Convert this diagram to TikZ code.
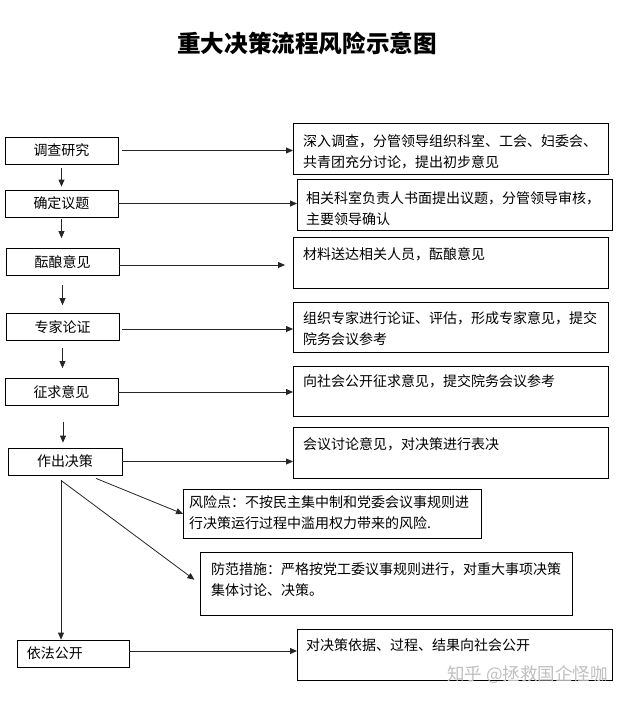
\documentclass[tikz,border=0pt]{standalone}
\usepackage{fontspec}
\newfontfamily\cjk{Noto Sans CJK SC}
\usetikzlibrary{arrows.meta,calc}
\begin{document}
\begin{tikzpicture}[x=1pt,y=-1pt,
  lbox/.style={draw, line width=0.8pt, inner sep=0pt, minimum width=113pt, minimum height=27pt, font=\cjk\fontsize{14}{21}\selectfont},
  rbox/.style={draw, line width=0.8pt, inner sep=0pt, anchor=north west},
  txt/.style={inner sep=0pt, anchor=north west, align=left, font=\cjk\fontsize{14}{21}\selectfont},
  arr/.style={draw=black!85, line width=0.8pt, -{Triangle[length=7pt,width=6pt]}}]
\useasboundingbox (0,0) rectangle (634,702);
\fill[white] (0,0) rectangle (634,702);

% title
\node[font=\cjk\bfseries\fontsize{23.6}{28}\selectfont] (title) at (307,43) {重大决策流程风险示意图};

% left boxes
\node[lbox] (n1) at (61.5,150.5) {调查研究};
\node[lbox] (n2) at (61.5,203.5) {确定议题};
\node[lbox] (n3) at (62.5,262) {酝酿意见};
\node[lbox] (n4) at (62.5,327) {专家论证};
\node[lbox] (n5) at (61.5,392) {征求意见};
\node[lbox, minimum width=114pt] (n6) at (65,461.5) {作出决策};
\node[lbox, minimum width=112pt, align=left, text width=92pt] (n7) at (73,653.5) {依法公开};

% right boxes
\node[rbox, minimum width=315pt, minimum height=51pt] (r1) at (293,123) {};
\node[rbox, minimum width=315pt, minimum height=51pt] (r2) at (297,179) {};
\node[rbox, minimum width=315pt, minimum height=51pt] (r3) at (293,237) {};
\node[rbox, minimum width=315pt, minimum height=50pt] (r4) at (293,302) {};
\node[rbox, minimum width=315pt, minimum height=50pt] (r5) at (293,366) {};
\node[rbox, minimum width=315pt, minimum height=51pt] (r6) at (293,427) {};
\node[rbox, minimum width=298pt, minimum height=49pt] (risk) at (183,489) {};
\node[rbox, minimum width=372pt, minimum height=63pt] (prev) at (200,552) {};
\node[rbox, minimum width=315pt, minimum height=51pt] (r7) at (297,629) {};

% texts
\node[txt] (t1) at ($(r1.north west)+(10,11)$) {深入调查，分管领导组织科室、工会、妇委会、\\共青团充分讨论，提出初步意见};
\node[txt] (t2) at ($(r2.north west)+(9,12)$) {相关科室负责人书面提出议题，分管领导审核，\\主要领导确认};
\node[txt] (t3) at ($(r3.north west)+(10,10)$) {材料送达相关人员，酝酿意见};
\node[txt] (t4) at ($(r4.north west)+(10,9)$) {组织专家进行论证、评估，形成专家意见，提交\\院务会议参考};
\node[txt] (t5) at ($(r5.north west)+(10,8)$) {向社会公开征求意见，提交院务会议参考};
\node[txt] (t6) at ($(r6.north west)+(10,10)$) {会议讨论意见，对决策进行表决};
\node[txt] (trisk) at ($(risk.north west)+(6,6)$) {风险点：不按民主集中制和党委会议事规则进\\行决策运行过程中滥用权力带来的风险.};
\node[txt] (tprev) at ($(prev.north west)+(11,10)$) {防范措施：严格按党工委议事规则进行，对重大事项决策\\集体讨论、决策。};
\node[txt] (t7) at ($(r7.north west)+(9,9)$) {对决策依据、过程、结果向社会公开};

% horizontal arrows
\draw[arr, shorten <=4pt] (n1.east) -- (n1.east -| r1.west);
\draw[arr] (n2.east) -- (n2.east -| r2.west);
\draw[arr, shorten >=8pt] ([yshift=-3pt]n3.east) -- ([yshift=-3pt]n3.east -| r3.west);
\draw[arr, shorten <=3pt] ([yshift=-2pt]n4.east) -- ([yshift=-2pt]n4.east -| r4.west);
\draw[arr] (n5.east) -- (n5.east -| r5.west);
\draw[arr] (n6.east) -- (n6.east -| r6.west);
\draw[arr] ([yshift=2.5pt]n7.east) -- ([yshift=2.5pt]n7.east -| r7.west);

% vertical arrows
\draw[arr, shorten <=4pt, shorten >=3pt] (n1.south) -- (n1.south |- n2.north);
\draw[arr, shorten <=2pt, shorten >=10pt] (n2.south) -- (n2.south |- n3.north);
\draw[arr, shorten <=9pt, shorten >=8pt] (n3.south) -- (n3.south |- n4.north);
\draw[arr, shorten <=7pt, shorten >=10pt] (n4.south) -- (n4.south |- n5.north);
\draw[arr, shorten <=16pt, shorten >=5pt] ([xshift=1.5pt]n5.south) -- ([xshift=1.5pt]n5.south |- n6.north);

% fork from decision
\coordinate (f1) at ([xshift=-4pt,yshift=-5pt]n6.south);
\coordinate (f2) at ([xshift=31pt,yshift=-3pt]n6.south);
\draw[arr] (f1) -- (f1 |- n7.north);
\draw[arr] (f2) -- (risk.west);
\draw[arr, shorten >=7pt] (f1) -- (prev.west);

% watermark
\node[anchor=west, inner sep=0pt, text=black!25, font=\cjk\fontsize{17.5}{20}\selectfont] (wm) at (447,675) {知乎 @拯救国企怪咖};
\end{tikzpicture}
\end{document}
